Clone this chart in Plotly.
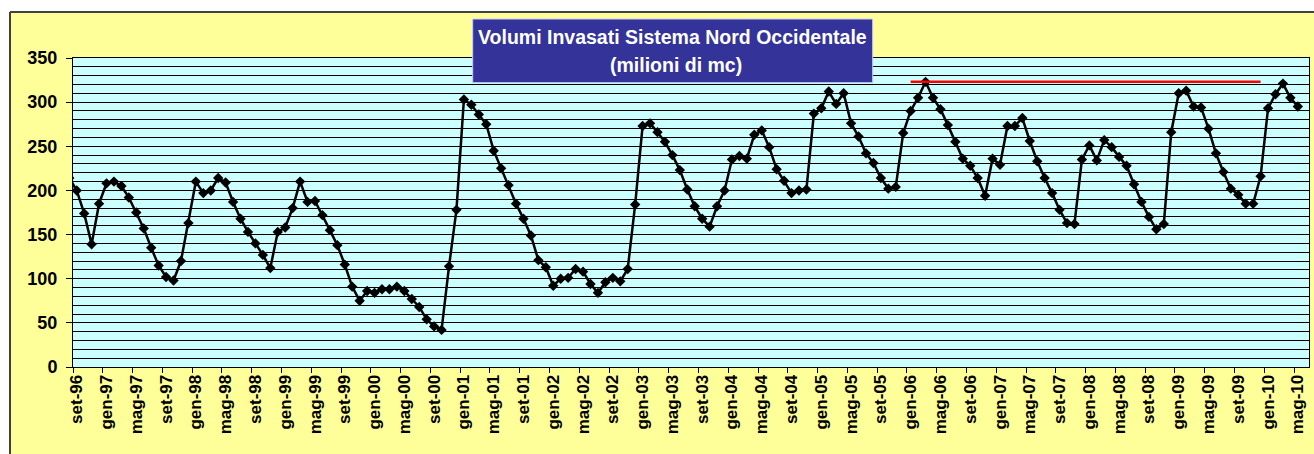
import plotly.graph_objects as go

# ---- data ----
mesi = ["gen", "feb", "mar", "apr", "mag", "giu", "lug", "ago", "set", "ott", "nov", "dic"]
# categories: set-96 ... mag-10 (165 months)
categorie = []
for k in range(165):
    m = (8 + k) % 12
    y = (1996 + (8 + k) // 12) % 100
    categorie.append(f"{mesi[m]}-{y:02d}")

valore_ago96 = 214  # month before the first category (drawn just outside the plot)

volumi = [
    200, 174, 139, 185, 208, 210, 205, 192, 175, 157, 135, 115, 102, 98, 120, 163,
    210, 197, 200, 214, 209, 187, 168, 153, 140, 127, 112, 153, 158, 180, 210, 187,
    188, 172, 155, 138, 116, 91, 75, 86, 84, 88, 88, 91, 86, 77, 68, 54,
    46, 42, 114, 178, 303, 297, 286, 275, 245, 225, 206, 185, 168, 149, 121, 113,
    92, 100, 101, 111, 108, 94, 84, 96, 101, 97, 111, 184, 273, 276, 266, 255,
    240, 223, 201, 182, 168, 159, 182, 200, 235, 239, 236, 263, 268, 249, 224, 211,
    197, 200, 201, 287, 293, 312, 298, 310, 276, 261, 242, 231, 214, 202, 204, 265,
    290, 305, 323, 305, 292, 274, 255, 236, 228, 214, 194, 236, 229, 273, 273, 282,
    256, 233, 214, 197, 178, 163, 162, 235, 251, 234, 257, 249, 238, 228, 207, 187,
    170, 156, 162, 266, 310, 313, 295, 294, 270, 242, 221, 202, 195, 185, 185, 216,
    293, 309, 321, 305, 295,
]

# red reference line: from gen-06 to dic-09
rosso_da = "gen-06"
rosso_a = "dic-09"
rosso_valore = 323

tick_labels = categorie[::4]
tick_idx = list(range(0, len(categorie), 4))

x_idx = list(range(len(categorie)))
i0 = categorie.index(rosso_da)
i1 = categorie.index(rosso_a)

fig = go.Figure()
fig.add_trace(go.Scatter(
    x=[-1] + x_idx, y=[valore_ago96] + volumi,
    mode="lines+markers",
    line=dict(color="black", width=2.5),
    marker=dict(symbol="diamond", size=8, color="black"),
    showlegend=False,
))
fig.add_trace(go.Scatter(
    x=list(range(i0, i1 + 1)), y=[rosso_valore] * (i1 - i0 + 1),
    mode="lines",
    line=dict(color="#FF0000", width=2.5),
    showlegend=False,
))

L, R, T, B = 73, 5, 58, 87
W, H = 1314, 454
pw = W - L - R
ph = H - T - B

def px(xp):
    return (xp - L) / pw

def py(yp):
    return (H - B - yp) / ph

font = "Arial, Liberation Sans"

fig.update_layout(
    width=W, height=H,
    margin=dict(l=L, r=R, t=T, b=B, autoexpand=False),
    paper_bgcolor="#FFFF99",
    plot_bgcolor="#CCFFFF",
    xaxis=dict(
        range=[-0.5, len(categorie) + 0.5],
        tickmode="array", tickvals=tick_idx, ticktext=tick_labels,
        tickangle=-90, ticks="",
        tickfont=dict(family=font, size=17, color="black", weight="bold"),
        showgrid=False, zeroline=False,
        showline=True, linecolor="black", linewidth=1, mirror=True,
        minor=dict(ticks="outside", tick0=-0.5, dtick=4, ticklen=5, tickcolor="black", showgrid=False),
    ),
    yaxis=dict(
        range=[0, 350], tickmode="linear", tick0=0, dtick=50,
        ticks="outside", ticklen=6, tickcolor="black",
        tickfont=dict(family=font, size=18, color="black", weight="bold"),
        showgrid=True, gridcolor="black", gridwidth=1,
        zeroline=False,
        showline=True, linecolor="black", linewidth=1, mirror=True,
        ticklabelstandoff=5,
        minor=dict(dtick=10, showgrid=True, gridcolor="black", gridwidth=1, ticks=""),
    ),
    shapes=[
        # white outer area (top & left)
        dict(type="rect", xref="paper", yref="paper", x0=px(-10), x1=px(1330), y0=py(12), y1=py(-10),
             fillcolor="white", line=dict(width=0), layer="above"),
        dict(type="rect", xref="paper", yref="paper", x0=px(-10), x1=px(10), y0=py(470), y1=py(-10),
             fillcolor="white", line=dict(width=0), layer="above"),
        dict(type="line", xref="paper", yref="paper", x0=px(10), x1=px(1330), y0=py(12), y1=py(12),
             line=dict(color="#404040", width=2), layer="above"),
        dict(type="line", xref="paper", yref="paper", x0=px(10), x1=px(10), y0=py(12), y1=py(470),
             line=dict(color="#404040", width=2), layer="above"),
        # title box
        dict(type="rect", xref="paper", yref="paper", x0=px(472.7), x1=px(872.7), y0=py(82.7), y1=py(19),
             fillcolor="#333399", line=dict(color="#CCCCFF", width=1), layer="above"),
    ],
    annotations=[
        dict(text="Volumi Invasati Sistema Nord Occidentale", xref="paper", yref="paper",
             x=px(672.7), y=py(37), xanchor="center", yanchor="middle", showarrow=False,
             font=dict(family=font, size=19.5, color="white", weight="bold")),
        dict(text="(milioni di mc)", xref="paper", yref="paper",
             x=px(675.7), y=py(64.5), xanchor="center", yanchor="middle", showarrow=False,
             font=dict(family=font, size=19.5, color="white", weight="bold")),
    ],
)

fig.write_html(
    "out.html",
    config={"displayModeBar": False},
    post_script="document.body.style.margin='0';document.body.style.overflow='hidden';",
)
